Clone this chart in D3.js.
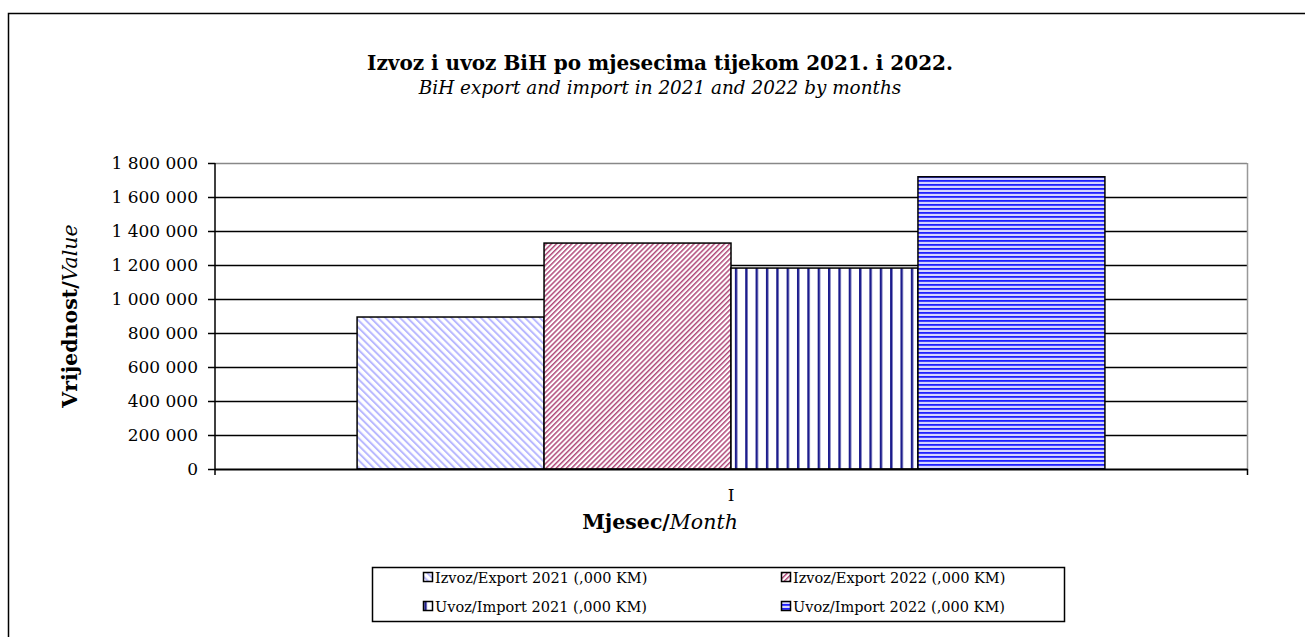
<!DOCTYPE html>
<html>
<head>
<meta charset="utf-8">
<script src="https://cdn.jsdelivr.net/npm/d3@7"></script>
<style>
  body { margin: 0; background: #fff; }
  svg { display: block; font-family: "DejaVu Serif", "Liberation Serif", serif; }
</style>
</head>
<body>
<div id="chart"></div>
<script>
// data
const months = ["I"];
const seriesNames = [
    "Izvoz/Export 2021 (,000 KM)",
    "Izvoz/Export 2022 (,000 KM)",
    "Uvoz/Import 2021 (,000 KM)",
    "Uvoz/Import 2022 (,000 KM)"
];
const export2021 = [894000];
const export2022 = [1329000];
const import2021 = [1182000];
const import2022 = [1719000];
const yTicks = [0, 200000, 400000, 600000, 800000, 1000000, 1200000, 1400000, 1600000, 1800000];

const seriesValues = [export2021, export2022, import2021, import2022];
const patternIds = ["pat-exp21", "pat-exp22", "pat-imp21", "pat-imp22"];

const W = 1305, H = 637;
const plot = { left: 215, right: 1247, top: 163, bottom: 469 };

const svg = d3.select("#chart").append("svg")
    .attr("width", W)
    .attr("height", H);

// patterns for the bars
const defs = svg.append("defs");

function stripePattern(id, size, angle, bg, lineColor, lineWidth, vertical) {
    let p = defs.append("pattern")
        .attr("id", id)
        .attr("patternUnits", "userSpaceOnUse")
        .attr("width", size)
        .attr("height", size);
    if (angle !== 0) p.attr("patternTransform", `rotate(${angle})`);
    p.append("rect").attr("width", size).attr("height", size).attr("fill", bg);
    if (vertical) {
        p.append("rect").attr("x", 0).attr("y", 0).attr("width", lineWidth).attr("height", size).attr("fill", lineColor);
    } else {
        p.append("rect").attr("x", 0).attr("y", 0).attr("width", size).attr("height", lineWidth).attr("fill", lineColor);
    }
}
stripePattern("pat-exp21", 5.2, -45, "#ffffff", "#b8b8ff", 2, true);
stripePattern("pat-exp22", 3.6, 45, "#ffffff", "#b04a7a", 1.5, true);
stripePattern("pat-imp21", 10.35, 0, "#ffffff", "#1c1c8c", 2.4, true);
stripePattern("pat-imp22", 4, 0, "#d4d4ff", "#1f1fff", 1.8, false);

// outer chart border (runs off the right and bottom edges)
svg.append("rect")
    .attr("x", 8.5).attr("y", 13.5)
    .attr("width", W + 20).attr("height", H + 20)
    .attr("fill", "none")
    .attr("stroke", "#000")
    .attr("stroke-width", 1.5);

// scales
const x0 = d3.scaleBand().domain(months).range([plot.left, plot.right]).padding(0);
const x1 = d3.scaleBand().domain(d3.range(seriesNames.length))
    .range([0, x0.bandwidth()])
    .paddingInner(0)
    .paddingOuter(0.76);
const y = d3.scaleLinear().domain([0, 1800000]).range([plot.bottom, plot.top]);

const fmt = v => d3.format(",")(v).replace(/,/g, " ");

// gridlines
svg.append("g").selectAll("line")
    .data(yTicks.filter(d => d > 0))
    .enter().append("line")
    .attr("x1", plot.left).attr("x2", plot.right)
    .attr("y1", d => Math.round(y(d)) + 0.5).attr("y2", d => Math.round(y(d)) + 0.5)
    .attr("stroke", d => d === 1800000 ? "#888" : "#000")
    .attr("stroke-width", 1.5);

// right plot border
svg.append("line")
    .attr("x1", plot.right + 0.5).attr("x2", plot.right + 0.5)
    .attr("y1", plot.top).attr("y2", plot.bottom)
    .attr("stroke", "#999").attr("stroke-width", 1.5);

// bars
const bars = [];
months.forEach((m, mi) => {
    seriesValues.forEach((vals, si) => {
        bars.push({ month: m, s: si, value: vals[mi] });
    });
});

svg.append("g").selectAll("rect")
    .data(bars)
    .enter().append("rect")
    .attr("x", d => x0(d.month) + x1(d.s))
    .attr("y", d => y(d.value))
    .attr("width", x1.bandwidth())
    .attr("height", d => y(0) - y(d.value))
    .attr("fill", d => `url(#${patternIds[d.s]})`)
    .attr("stroke", "#000")
    .attr("stroke-width", 1.5);

// y axis
const yAxis = d3.axisLeft(y).tickValues(yTicks).tickFormat(fmt).tickSize(7).tickPadding(10);
const gy = svg.append("g")
    .attr("transform", `translate(${plot.left},0)`)
    .call(yAxis);
gy.select(".domain").attr("stroke", "#000").attr("stroke-width", 1.5).attr("d", `M0,${plot.top}V${plot.bottom}`);
gy.selectAll(".tick line").attr("stroke", "#000").attr("stroke-width", 1.5);
gy.selectAll(".tick text").attr("font-size", 17).attr("font-family", "DejaVu Serif").attr("fill", "#000");

// x axis
const gx = svg.append("g").attr("transform", `translate(0,${plot.bottom})`);
gx.append("line")
    .attr("x1", plot.left).attr("x2", plot.right + 0.5)
    .attr("y1", 0.5).attr("y2", 0.5)
    .attr("stroke", "#000").attr("stroke-width", 2);
gx.selectAll(".edge")
    .data([plot.left, plot.right + 0.5])
    .enter().append("line")
    .attr("class", "edge")
    .attr("x1", d => d).attr("x2", d => d)
    .attr("y1", 0).attr("y2", 6)
    .attr("stroke", "#000").attr("stroke-width", 1.5);
gx.selectAll("text")
    .data(months)
    .enter().append("text")
    .attr("x", d => x0(d) + x0.bandwidth() / 2)
    .attr("y", 32)
    .attr("text-anchor", "middle")
    .attr("font-size", 17)
    .text(d => d);

// titles
svg.append("text")
    .attr("x", 660).attr("y", 70)
    .attr("text-anchor", "middle")
    .attr("font-size", 20)
    .attr("font-weight", "bold")
    .text("Izvoz i uvoz BiH po mjesecima tijekom 2021. i 2022.");

svg.append("text")
    .attr("x", 660).attr("y", 94)
    .attr("text-anchor", "middle")
    .attr("font-size", 18.4)
    .attr("font-style", "italic")
    .text("BiH export and import in 2021 and 2022 by months");

const xl = svg.append("text")
    .attr("x", 660).attr("y", 529)
    .attr("text-anchor", "middle")
    .attr("font-size", 20.5);
xl.append("tspan").attr("font-weight", "bold").text("Mjesec/");
xl.append("tspan").attr("font-style", "italic").text("Month");

const yl = svg.append("text")
    .attr("transform", "translate(77,316) rotate(-90)")
    .attr("text-anchor", "middle")
    .attr("font-size", 20.5);
yl.append("tspan").attr("font-weight", "bold").text("Vrijednost/");
yl.append("tspan").attr("font-style", "italic").text("Value");

// legend
const legend = svg.append("g").attr("class", "legend");
legend.append("rect")
    .attr("x", 372.5).attr("y", 567.5)
    .attr("width", 692).attr("height", 54)
    .attr("fill", "#fff")
    .attr("stroke", "#000")
    .attr("stroke-width", 1.5);

const legendPos = seriesNames.map((n, i) => ({
    name: n, s: i,
    x: i % 2 === 0 ? 423 : 781,
    y: i < 2 ? 578 : 607
}));

legend.selectAll(".swatch")
    .data(legendPos)
    .enter().append("rect")
    .attr("class", "swatch")
    .attr("x", d => d.x + 0.5).attr("y", d => d.y - 5.5)
    .attr("width", 9).attr("height", 9)
    .attr("fill", d => `url(#${patternIds[d.s]})`)
    .attr("stroke", "#000")
    .attr("stroke-width", 1.5);

legend.selectAll(".label")
    .data(legendPos)
    .enter().append("text")
    .attr("class", "label")
    .attr("x", d => d.x + 12)
    .attr("y", d => d.y + 5)
    .attr("font-size", 14.5)
    .text(d => d.name);
</script>
</body>
</html>
